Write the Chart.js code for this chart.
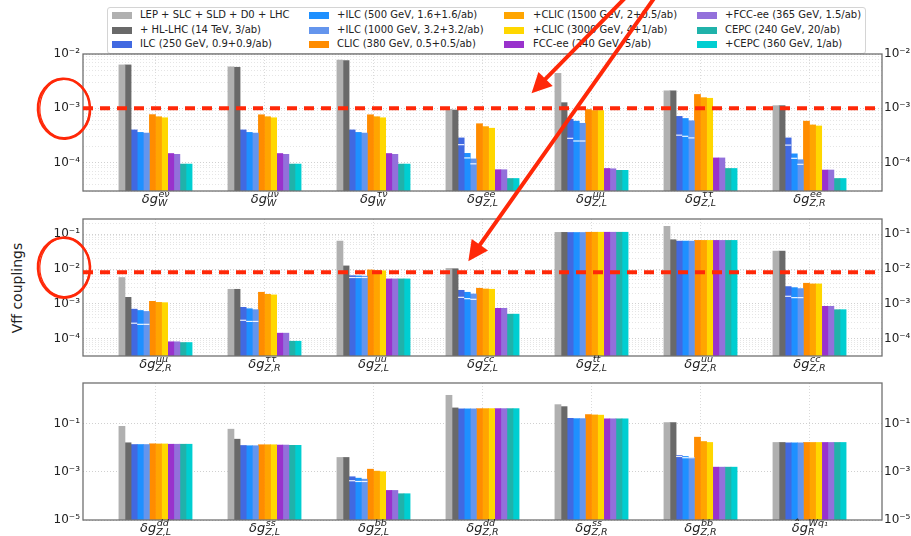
<!DOCTYPE html>
<html>
<head>
<meta charset="utf-8">
<script src="https://cdn.jsdelivr.net/npm/chart.js@4.4.1/dist/chart.umd.min.js"></script>
<style>
  body { margin: 0; background: #fff; }
  #wrap { position: relative; width: 911px; height: 536px; overflow: hidden; font-family: 'DejaVu Sans', sans-serif; }
  #wrap canvas { position: absolute; left: 0; top: 0; z-index: 2; }
  #legenda { position: absolute; left: 107px; top: 7px; width: 757px; height: 45px; border: 1px solid #d4d4d4; border-radius: 3px; background: rgba(255,255,255,0.9); z-index: 1; }
  .sw { position: absolute; width: 20px; height: 7px; }
  .txt { position: absolute; font-size: 10px; line-height: 12px; color: #222; white-space: nowrap; }
  #ylabel { position: absolute; left: 17px; top: 288px; font-size: 14px; color: #222; white-space: nowrap; transform: translate(-50%, -50%) rotate(-90deg); z-index: 1; }
</style>
</head>
<body>
<div id="wrap">
  <div id="legenda"></div>
  <div id="ylabel">Vff couplings</div>
  <canvas id="painel0" width="911" height="536"></canvas>
  <canvas id="painel1" width="911" height="536"></canvas>
  <canvas id="painel2" width="911" height="536"></canvas>
</div>
<script>
// ---- coupling labels (7 per panel, 21 in total)
const labelBase = ['δg','δg','δg','δg','δg','δg','δg',
                   'δg','δg','δg','δg','δg','δg','δg',
                   'δg','δg','δg','δg','δg','δg','δ̂g'];
const labelSup = ['eν','μν','τν','ee','μμ','ττ','ee',
                  'μμ','ττ','uu','cc','tt','uu','cc',
                  'dd','ss','bb','dd','ss','bb','Wq₁'];
const labelSub = ['W','W','W','Z,L','Z,L','Z,L','Z,R',
                  'Z,R','Z,R','Z,L','Z,L','Z,L','Z,R','Z,R',
                  'Z,L','Z,L','Z,L','Z,R','Z,R','Z,R','R'];

// ---- scenarios
const series = ['LEP + SLC + SLD + D0 + LHC', '+ HL-LHC (14 TeV, 3/ab)', 'ILC (250 GeV, 0.9+0.9/ab)',
                '+ILC (500 GeV, 1.6+1.6/ab)', '+ILC (1000 GeV, 3.2+3.2/ab)', 'CLIC (380 GeV, 0.5+0.5/ab)',
                '+CLIC (1500 GeV, 2+0.5/ab)', '+CLIC (3000 GeV, 4+1/ab)', 'FCC-ee (240 GeV, 5/ab)',
                '+FCC-ee (365 GeV, 1.5/ab)', 'CEPC (240 GeV, 20/ab)', '+CEPC (360 GeV, 1/ab)'];
const colors = ['#b0b0b0', '#696969', '#4169e1', '#1e90ff', '#6495ed', '#ff8c00',
                '#ffa500', '#ffd700', '#9932cc', '#9370db', '#20b2aa', '#00ced1'];

// ---- precision per scenario, same order as the labels
const lep      = [6.3e-3, 5.8e-3, 7.7e-3, 9.6e-4, 4.4e-3, 2.1e-3, 1.12e-3,
                  5.75e-3, 2.64e-3, 0.064, 1.05e-2, 0.114, 0.17, 0.033,
                  0.079, 0.06, 4.0e-3, 1.54, 0.63, 0.113, 0.0168];
const hllhc    = [6.3e-3, 5.7e-3, 7.6e-3, 9.3e-4, 1.27e-3, 2.1e-3, 1.12e-3,
                  1.55e-3, 2.64e-3, 0.0124, 1.03e-2, 0.114, 0.07, 0.033,
                  0.0163, 0.023, 4.0e-3, 0.46, 0.52, 0.113, 0.0168];
const ilc250   = [4.0e-4, 4.0e-4, 4.0e-4, 2.85e-4, 6.3e-4, 7.1e-4, 2.85e-4,
                  7.1e-4, 8.0e-4, 6.5e-3, 2.47e-3, 0.113, 0.064, 3.16e-3,
                  0.0138, 0.0126, 6.3e-4, 0.42, 0.17, 4.85e-3, 0.0162];
const ilc500   = [3.6e-4, 3.6e-4, 3.6e-4, 1.48e-4, 5.8e-4, 6.5e-4, 1.45e-4,
                  6.5e-4, 7.3e-4, 6.4e-3, 2.17e-3, 0.113, 0.064, 2.95e-3,
                  0.0138, 0.0123, 5.5e-4, 0.42, 0.165, 4.4e-3, 0.0162];
const ilc1000  = [3.5e-4, 3.5e-4, 3.5e-4, 1.17e-4, 5.3e-4, 5.9e-4, 1.13e-4,
                  6.1e-4, 6.85e-4, 6.3e-3, 1.94e-3, 0.113, 0.064, 2.77e-3,
                  0.0138, 0.0123, 5.0e-4, 0.42, 0.165, 4.0e-3, 0.0162];
const clic380  = [7.65e-4, 7.6e-4, 7.6e-4, 5.2e-4, 9.5e-4, 1.8e-3, 5.8e-4,
                  1.19e-3, 2.17e-3, 9.5e-3, 2.83e-3, 0.115, 0.067, 3.94e-3,
                  0.0148, 0.0135, 1.3e-3, 0.43, 0.243, 0.0279, 0.0168];
const clic1500 = [7.0e-4, 7.0e-4, 7.0e-4, 4.6e-4, 9.1e-4, 1.57e-3, 4.94e-4,
                  1.11e-3, 1.9e-3, 9.2e-3, 2.7e-3, 0.115, 0.067, 3.77e-3,
                  0.0146, 0.0135, 1.08e-3, 0.43, 0.235, 0.0184, 0.0168];
const clic3000 = [6.7e-4, 6.7e-4, 6.7e-4, 4.3e-4, 9.1e-4, 1.53e-3, 4.73e-4,
                  1.09e-3, 1.82e-3, 9.0e-3, 2.65e-3, 0.115, 0.067, 3.77e-3,
                  0.0146, 0.0135, 1.02e-3, 0.43, 0.23, 0.0168, 0.0168];
const fcc240   = [1.47e-4, 1.47e-4, 1.47e-4, 7.4e-5, 7.8e-5, 1.22e-4, 7.3e-5,
                  8.2e-5, 1.45e-4, 5.25e-3, 7.5e-4, 0.115, 0.067, 8.55e-4,
                  0.0142, 0.0131, 1.7e-4, 0.43, 0.162, 1.58e-3, 0.0168];
const fcc365   = [1.42e-4, 1.42e-4, 1.42e-4, 7.4e-5, 7.7e-5, 1.22e-4, 7.3e-5,
                  8.2e-5, 1.45e-4, 5.25e-3, 7.5e-4, 0.115, 0.067, 8.55e-4,
                  0.0142, 0.0131, 1.7e-4, 0.43, 0.162, 1.58e-3, 0.0168];
const cepc240  = [9.4e-5, 9.4e-5, 9.4e-5, 5.1e-5, 7.2e-5, 7.8e-5, 5.1e-5,
                  7.8e-5, 8.5e-5, 5.25e-3, 5.1e-4, 0.115, 0.067, 6.85e-4,
                  0.0142, 0.0128, 1.24e-4, 0.43, 0.162, 1.58e-3, 0.0168];
const cepc360  = [9.4e-5, 9.4e-5, 9.4e-5, 5.1e-5, 7.2e-5, 7.8e-5, 5.1e-5,
                  7.8e-5, 8.5e-5, 5.25e-3, 5.1e-4, 0.115, 0.067, 6.85e-4,
                  0.0142, 0.0128, 1.24e-4, 0.43, 0.162, 1.58e-3, 0.0168];
const seriesValues = [lep, hllhc, ilc250, ilc500, ilc1000, clic380, clic1500, clic3000,
                      fcc240, fcc365, cepc240, cepc360];

// second ILC value per coupling (white tick inside the ILC bars)
const ilc250Mark  = [null, null, null, 2.14e-4, 2.8e-4, 3.2e-4, 2.1e-4,
                     2.8e-4, 3.4e-4, 5.75e-3, 1.55e-3, null, null, 1.66e-3,
                     null, null, 4.3e-4, null, null, 4.4e-3, null];
const ilc500Mark  = [null, null, null, 1.22e-4, 2.5e-4, 3.05e-4, 1.2e-4,
                     2.6e-4, 3.15e-4, 5.75e-3, 1.42e-3, null, null, 1.52e-3,
                     null, null, 4.0e-4, null, null, 3.9e-3, null];
const ilc1000Mark = [null, null, null, 9.5e-5, 2.5e-4, 2.85e-4, 9.3e-5,
                     2.6e-4, 3.15e-4, 5.75e-3, 1.36e-3, null, null, 1.52e-3,
                     null, null, 4.0e-4, null, null, 3.9e-3, null];
const markValues = {2: ilc250Mark, 3: ilc500Mark, 4: ilc1000Mark};

// ---- y tick labels per panel
const ticksP1 = [1e-4, 1e-3, 1e-2];
const ticksP2 = [1e-4, 1e-3, 1e-2, 1e-1];
const ticksP3 = [1e-5, 1e-3, 1e-1];

// red reference level per panel
const refLevels = [1e-3, 8.2e-3, null];
// arrow tips: [panel, coupling position, value]
const arrowTips = [[0, 3.45, 1.9e-3], [1, 2.87, 1.7e-2]];

const panels = [
  { first: 0,  top: 54,  bottom: 191, min: 3e-5,   max: 1e-2,  labels: ticksP1, minor: true },
  { first: 7,  top: 219, bottom: 356, min: 3.2e-5, max: 0.276, labels: ticksP2, minor: true },
  { first: 14, top: 383, bottom: 520, min: 1e-5,   max: 5,     labels: ticksP3, minor: false }
];

const FONT = "'DejaVu Sans', sans-serif";
const RED = 'rgb(255,40,8)';
const graficos = [];

const SUP = {'-': '⁻', '0': '⁰', '1': '¹', '2': '²', '3': '³', '4': '⁴', '5': '⁵', '6': '⁶', '7': '⁷', '8': '⁸', '9': '⁹'};
function potencia(v) {
  const e = Math.round(Math.log10(v));
  return '10' + String(e).split('').map(c => SUP[c]).join('');
}

function ehRotulo(p, v) {
  return p.labels.some(t => Math.abs(Math.log10(t) - Math.log10(v)) < 1e-9);
}

function montarTicks(p) {
  const out = [];
  const lo = Math.floor(Math.log10(p.min)), hi = Math.ceil(Math.log10(p.max));
  for (let e = lo; e <= hi; e++) {
    for (let m = 1; m <= 9; m++) {
      const v = m * Math.pow(10, e);
      if (v < p.min * 0.999 || v > p.max * 1.001) continue;
      const major = m === 1 && ehRotulo(p, v);
      if (!major && !p.minor) continue;
      out.push({ value: v, major: major });
    }
  }
  return out;
}

function montarLegenda() {
  const box = document.getElementById('legenda');
  const swX = [4, 201, 396, 589];
  const txX = [32, 229, 425, 617];
  const rowY = [7, 22, 36];
  series.forEach((nome, k) => {
    const col = Math.floor(k / 3), row = k % 3;
    const sw = document.createElement('div');
    sw.className = 'sw';
    sw.style.left = swX[col] + 'px';
    sw.style.top = (rowY[row] - 3.5) + 'px';
    sw.style.background = colors[k];
    box.appendChild(sw);
    const t = document.createElement('div');
    t.className = 'txt';
    t.style.left = txX[col] + 'px';
    t.style.top = (rowY[row] - 6) + 'px';
    t.textContent = nome;
    box.appendChild(t);
  });
}

// white ILC ticks, frame, reference line and coupling labels
const painelPlugin = {
  id: 'painel',
  afterDatasetsDraw(chart) {
    const ctx = chart.ctx;
    const ys = chart.scales.y;
    const p = chart.$p;
    Object.keys(markValues).forEach(k => {
      const meta = chart.getDatasetMeta(Number(k));
      const marks = markValues[k].slice(p.first, p.first + 7);
      meta.data.forEach((bar, i) => {
        if (marks[i] == null) return;
        const y = ys.getPixelForValue(marks[i]);
        ctx.save();
        ctx.strokeStyle = 'rgba(255,255,255,0.9)';
        ctx.lineWidth = 1.2;
        ctx.beginPath();
        ctx.moveTo(bar.x - bar.width / 2, y);
        ctx.lineTo(bar.x + bar.width / 2, y);
        ctx.stroke();
        ctx.restore();
      });
    });
  },
  afterDraw(chart) {
    const ctx = chart.ctx;
    const a = chart.chartArea;
    const p = chart.$p;
    ctx.save();
    ctx.strokeStyle = '#707070';
    ctx.lineWidth = 1.3;
    ctx.strokeRect(a.left, a.top, a.right - a.left, a.bottom - a.top);

    const ref = refLevels[chart.$idx];
    if (ref != null) {
      const y = chart.scales.y.getPixelForValue(ref);
      ctx.strokeStyle = RED;
      ctx.lineWidth = 4;
      ctx.setLineDash([10, 7]);
      ctx.beginPath();
      ctx.moveTo(a.left, y);
      ctx.lineTo(a.right - 2, y);
      ctx.stroke();
      ctx.setLineDash([]);
    }

    const xs = chart.scales.x;
    ctx.fillStyle = '#222';
    ctx.textBaseline = 'alphabetic';
    ctx.textAlign = 'left';
    for (let i = 0; i < 7; i++) {
      const j = p.first + i;
      const cx = xs.getPixelForValue(i);
      ctx.font = 'italic 13px ' + FONT;
      const w0 = ctx.measureText(labelBase[j]).width;
      ctx.font = 'italic 9.5px ' + FONT;
      const ws = ctx.measureText(labelSup[j]).width;
      const wb = ctx.measureText(labelSub[j]).width;
      const x0 = cx - (w0 + Math.max(ws, wb)) / 2;
      ctx.font = 'italic 13px ' + FONT;
      ctx.fillText(labelBase[j], x0, a.bottom + 11.5);
      ctx.font = 'italic 9.5px ' + FONT;
      ctx.fillText(labelSup[j], x0 + w0 + 0.5, a.bottom + 6);
      ctx.fillText(labelSub[j], x0 + w0, a.bottom + 15);
    }
    ctx.restore();
  }
};

// hand-drawn red marks on top of everything
const marcasPlugin = {
  id: 'marcas',
  afterDraw(chart) {
    const ctx = chart.ctx;
    ctx.save();
    ctx.strokeStyle = RED;
    ctx.fillStyle = RED;
    ctx.lineCap = 'round';

    // rings round the reference tick labels
    [[0, 1e-3, 0.5], [1, 1e-2, -1.5]].forEach(([pi, v, dy]) => {
      const g = graficos[pi];
      const cy = g.scales.y.getPixelForValue(v) + dy;
      const cx = g.chartArea.left - 19;
      ctx.lineWidth = 2.6;
      ctx.beginPath();
      ctx.ellipse(cx, cy, 26, 30, -0.05, 0, Math.PI * 2);
      ctx.stroke();
      ctx.lineWidth = 1.2;
      ctx.beginPath();
      ctx.ellipse(cx + 0.8, cy - 0.6, 25, 29.5, 0.04, 0, Math.PI * 2);
      ctx.stroke();
    });

    // arrows coming down from the top edge
    const tails = [[626, -3], [655, -3]];
    arrowTips.forEach(([pi, xv, yv], n) => {
      const g = graficos[pi];
      const tx = g.scales.x.getPixelForValue(xv);
      const ty = g.scales.y.getPixelForValue(yv);
      const [sx, sy] = tails[n];
      const ang = Math.atan2(ty - sy, tx - sx);
      const hl = 20, hw = 10;
      const bx = tx - hl * Math.cos(ang), by = ty - hl * Math.sin(ang);
      ctx.lineWidth = 4;
      ctx.beginPath();
      ctx.moveTo(sx, sy);
      ctx.lineTo(bx, by);
      ctx.stroke();
      ctx.beginPath();
      ctx.moveTo(tx, ty);
      ctx.lineTo(bx + hw * Math.sin(ang), by - hw * Math.cos(ang));
      ctx.lineTo(bx - hw * Math.sin(ang), by + hw * Math.cos(ang));
      ctx.closePath();
      ctx.fill();
    });
    ctx.restore();
  }
};

function escalaY(p, pos) {
  return {
    type: 'logarithmic',
    position: pos,
    min: p.min,
    max: p.max,
    afterBuildTicks: s => { s.ticks = montarTicks(p); },
    afterFit: s => { s.width = pos === 'left' ? 83 : 911 - 882; },
    ticks: {
      autoSkip: false,
      padding: pos === 'left' ? 3 : 2,
      color: '#222',
      font: { family: FONT, size: 12 },
      callback: v => ehRotulo(p, v) ? potencia(v) : ''
    },
    grid: {
      display: pos === 'left',
      drawTicks: false,
      lineWidth: 0.8,
      color: c => (c.tick && c.tick.major) ? '#c4c4c4' : '#dedede'
    },
    border: { display: false, dash: [1, 2] }
  };
}

function desenharPainel(p, idx) {
  const ctx = document.getElementById('painel' + idx).getContext('2d');
  const datasets = seriesValues.map((vals, k) => ({
    label: series[k],
    data: vals.slice(p.first, p.first + 7).map((v, i) => ({ x: i, y: v })),
    backgroundColor: colors[k],
    borderWidth: 0,
    barThickness: 6.1
  }));

  // the plugins read the panel settings back from the chart
  const cfgPlugin = {
    id: 'cfg' + idx,
    beforeInit(chart) { chart.$p = p; chart.$idx = idx; }
  };
  const plugins = [cfgPlugin, painelPlugin];
  if (idx === panels.length - 1) plugins.push(marcasPlugin);

  return new Chart(ctx, {
    type: 'bar',
    data: { datasets: datasets },
    options: {
      responsive: false,
      animation: false,
      devicePixelRatio: 1,
      layout: { padding: { top: p.top, left: 0, right: 0, bottom: 0 } },
      plugins: { legend: { display: false }, tooltip: { enabled: false } },
      scales: {
        x: {
          type: 'linear',
          min: -0.665,
          max: 6.665,
          offset: false,
          afterBuildTicks: s => { s.ticks = [0, 1, 2, 3, 4, 5, 6].map(v => ({ value: v })); },
          afterFit: s => { s.height = 536 - p.bottom; },
          ticks: { display: false },
          grid: { offset: false, drawTicks: false, lineWidth: 0.8, color: '#d0d0d0' },
          border: { display: false, dash: [1, 2] }
        },
        y: escalaY(p, 'left'),
        yR: escalaY(p, 'right')
      }
    },
    plugins: plugins
  });
}

montarLegenda();
panels.forEach((p, idx) => {
  graficos.push(desenharPainel(p, idx));
});
</script>
</body>
</html>
